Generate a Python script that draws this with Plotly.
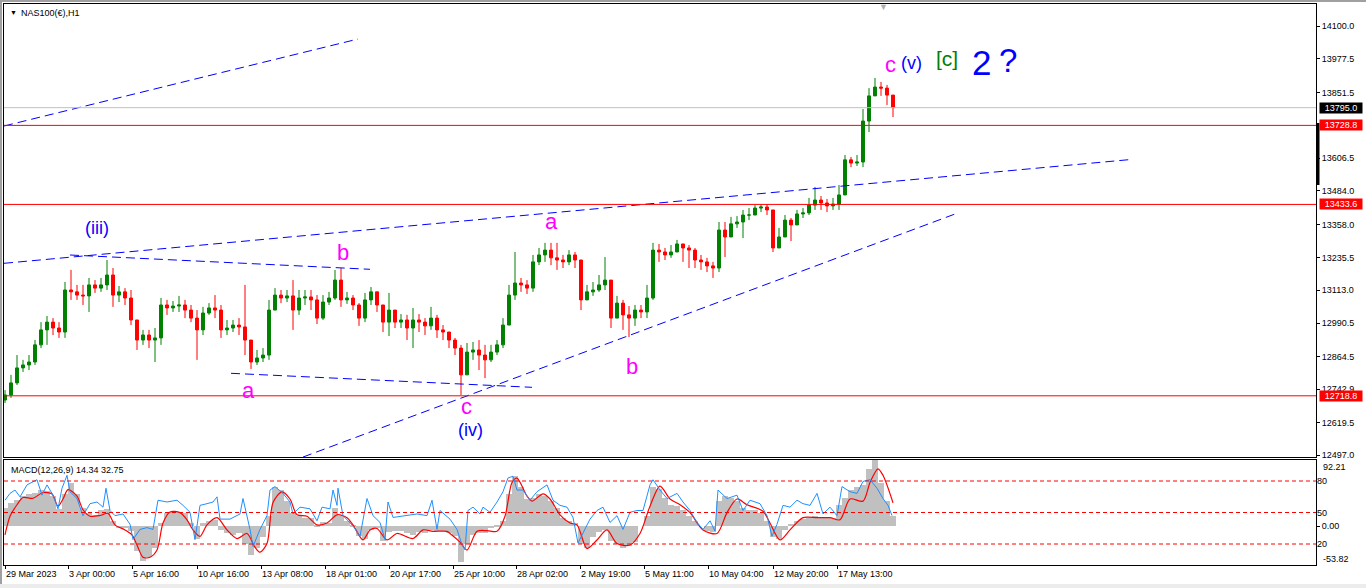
import plotly.graph_objects as go

# ---------------- data (6-bar steps of the H1 chart) ----------------
bar_index = list(range(0, 889, 6))
first_open = 12703
close = [12722, 12767, 12823, 12834, 12845, 12909, 12965, 12994, 12972, 12957,
         13114, 13107, 13095, 13092, 13133, 13121, 13133, 13170, 13095, 13107,
         13084, 13002, 12927, 12946, 12927, 12935, 13058, 13047, 13054, 13058,
         13039, 13009, 12965, 13028, 13047, 13039, 12965, 12972, 12983, 12976,
         12927, 12845, 12860, 12871, 13039, 13095, 13084, 13092, 13039, 13084,
         13088, 13077, 13009, 13069, 13084, 13151, 13077, 13084, 13058, 13009,
         13077, 13107, 13058, 12994, 13039, 12994, 13002, 12972, 13002, 12994,
         12980, 13009, 12965, 12957, 12927, 12897, 12797, 12882, 12890, 12871,
         12853, 12882, 12909, 12983, 13095, 13140, 13133, 13121, 13219, 13245,
         13263, 13234, 13226, 13219, 13245, 13226, 13077, 13107, 13114, 13133,
         13151, 13009, 13065, 13021, 13009, 13039, 13032, 13084, 13263, 13256,
         13245, 13256, 13286, 13271, 13263, 13226, 13219, 13204, 13196, 13338,
         13312, 13361, 13368, 13394, 13394, 13420, 13424, 13413, 13271, 13312,
         13375, 13357, 13398, 13402, 13431, 13450, 13439, 13428, 13435, 13469,
         13600, 13588, 13592, 13745, 13839, 13872, 13868, 13842, 13795]
high = [12740, 12797, 12871, 12853, 12871, 12927, 12994, 13017, 13009, 12994,
        13144, 13189, 13133, 13133, 13159, 13151, 13159, 13226, 13196, 13129,
        13121, 13114, 12994, 12965, 12965, 12972, 13084, 13077, 13073, 13092,
        13077, 13058, 13039, 13051, 13065, 13095, 13058, 13002, 13002, 13009,
        13133, 12927, 12890, 12897, 13077, 13121, 13114, 13114, 13151, 13114,
        13114, 13114, 13095, 13095, 13107, 13189, 13196, 13107, 13095, 13065,
        13103, 13125, 13095, 13058, 13103, 13032, 13024, 13021, 13047, 13024,
        13009, 13051, 13021, 12983, 12957, 12935, 12909, 12916, 12920, 12927,
        12909, 12909, 12927, 13009, 13133, 13256, 13159, 13151, 13245, 13271,
        13290, 13290, 13290, 13245, 13263, 13256, 13219, 13133, 13144, 13170,
        13237, 13133, 13092, 13077, 13054, 13058, 13058, 13133, 13290, 13286,
        13271, 13282, 13301, 13286, 13282, 13271, 13245, 13234, 13219, 13368,
        13368, 13387, 13390, 13413, 13420, 13431, 13435, 13435, 13413, 13346,
        13394, 13383, 13413, 13420, 13458, 13499, 13465, 13454, 13458, 13506,
        13618, 13611, 13618, 13790, 13868, 13906, 13891, 13880, 13835]
low = [12692, 12711, 12759, 12808, 12815, 12834, 12897, 12909, 12946, 12935,
       12935, 13077, 13077, 13058, 13032, 13103, 13107, 13114, 13051, 13069,
       13058, 12983, 12890, 12909, 12897, 12845, 12909, 13021, 13032, 13032,
       13009, 12994, 12853, 12946, 13021, 13009, 12935, 12946, 12957, 12946,
       12871, 12819, 12834, 12845, 12853, 13058, 13065, 13069, 12965, 13021,
       13058, 13039, 12987, 13002, 13058, 13077, 13051, 13062, 13039, 12980,
       12994, 13058, 13032, 12957, 12942, 12972, 12972, 12927, 12897, 12957,
       12946, 12965, 12935, 12927, 12897, 12871, 12722, 12797, 12853, 12815,
       12785, 12845, 12871, 12897, 12983, 13077, 13107, 13099, 13107, 13207,
       13219, 13207, 13189, 13196, 13207, 13196, 13039, 13077, 13092, 13107,
       13114, 12972, 13032, 12965, 12938, 12980, 13009, 13009, 13077, 13219,
       13226, 13234, 13263, 13219, 13196, 13196, 13189, 13181, 13159, 13181,
       13237, 13331, 13346, 13308, 13375, 13394, 13405, 13394, 13256, 13290,
       13331, 13297, 13368, 13383, 13394, 13413, 13413, 13405, 13413, 13413,
       13469, 13573, 13577, 13573, 13704, 13842, 13839, 13805, 13760]
open_ = [first_open] + close[:-1]
high = [max(h, o, c) for h, o, c in zip(high, open_, close)]
low = [min(l, o, c) for l, o, c in zip(low, open_, close)]

macd_hist = [25, 33, 36, 42, 45, 47, 50, 49, 42, 24,
             45, 60, 45, 25, 18, 16, 22, 24, 8, -2,
             -3, -6, -35, -48, -42, -30, 5, 18, 20, 20,
             18, 5, -18, 5, 8, 9, -5, -9, -12, -10,
             -25, -40, -30, -15, 15, 55, 50, 35, 18, 14,
             12, 12, 2, 6, 5, 25, 15, 8, 2, -14,
             -18, -5, -3, -20, -8, -7, -6, -10, -12, -8,
             -9, -5, -6, -7, -10, -14, -50, -25, -12, -10,
             -10, -3, 2, 8, 45, 70, 55, 38, 40, 45,
             42, 35, 25, 12, 8, 4, -25, -30, -15, -8,
             -5, -20, -25, -30, -28, -22, 0, 15, 55, 52,
             40, 30, 28, 22, 15, 8, 0, -6, -8, 35,
             42, 40, 35, 25, 22, 22, 18, 8, -15, -18,
             -5, 3, 8, 10, 12, 14, 12, 11, 12, 30,
             40, 50, 55, 58, 80, 92, 60, 35, 14.34]

signal_x = [0, 5, 12, 18, 28, 38, 47, 53, 58, 63, 72, 78, 85, 95, 103, 110, 120, 127, 132, 138,
            145, 152, 158, 165, 175, 182, 188, 195, 202, 212, 222, 232, 242, 250, 255, 262, 268, 277,
            285, 292, 302, 312, 322, 332, 342, 348, 358, 365, 372, 382, 392, 408, 418, 428, 442, 445,
            455, 462, 472, 482, 492, 500, 507, 512, 522, 527, 538, 545, 555, 565, 572, 582, 592, 602,
            612, 625, 635, 645, 655, 665, 675, 685, 698, 712, 722, 732, 742, 758, 765, 775, 785, 798,
            812, 825, 835, 845, 858, 865, 873, 878, 888]
signal_v = [-12, 14, 30, 40, 39, 47, 45, 28, 38, 51, 42, 23, 14, 15, 18, 2, -5, -12, -26, -43,
            -43, -33, 4.5, 20, 19, 9, -5, -14, 2, 12, -5, -17, -10, -29, -36, -24, 33, 48,
            38, 16, 14, 2, 4.5, 16, 12, 2, -19, -5, -3, -19, -10, -17, -5, -7, -7, -10,
            -22, -33, -7, -6, -7, 14, 61, 67, 42, 35, 45, 38, 16, 4.5, 2, -31, -19, -5,
            -24, -26, -10, 28, 56, 38, 30, 19, -5, -10, 19, 38, 30, 21, 4.5, -19, -5, 12,
            12, 12, 9, 38, 35, 61, 80, 71, 32.75]

osc_x = [0, 5, 10, 15, 22, 28, 32, 37, 42, 48, 53, 57, 62, 65, 72, 78, 85, 92, 98, 101, 105, 110,
         118, 125, 128, 135, 142, 148, 153, 162, 172, 178, 185, 190, 195, 202, 208, 212, 215, 225,
         235, 238, 245, 248, 255, 262, 265, 270, 278, 285, 288, 295, 305, 312, 317, 325, 328, 332,
         333, 338, 348, 355, 362, 368, 375, 380, 383, 388, 402, 412, 422, 427, 432, 435, 445, 452,
         457, 460, 463, 468, 475, 478, 485, 492, 498, 503, 508, 512, 518, 525, 532, 542, 548, 555,
         562, 568, 573, 578, 585, 592, 598, 605, 612, 618, 625, 632, 638, 645, 648, 655, 662, 672,
         678, 685, 692, 698, 705, 710, 713, 722, 732, 738, 745, 755, 762, 767, 772, 778, 785, 792,
         798, 805, 812, 818, 825, 832, 837, 845, 852, 858, 865, 872, 878, 883, 887]
osc_v = [61.7, 68.2, 71.4, 64.9, 76.3, 79.6, 81.2, 66.5, 76.3, 66.5, 53.5, 73.1, 85.4, 69.8, 63.3,
         47.0, 58.4, 60.0, 55.1, 73.1, 51.9, 47.0, 48.6, 38.8, 24.2, 33.9, 35.6, 33.9, 61.7, 60.0,
         61.7, 56.8, 50.2, 24.2, 56.8, 58.4, 60.0, 64.9, 43.7, 43.7, 48.6, 63.3, 33.9, 17.6, 33.9,
         47.0, 71.4, 74.7, 68.2, 60.0, 48.6, 55.1, 53.5, 42.1, 55.1, 53.5, 71.4, 56.8, 73.1, 47.0,
         37.2, 27.4, 63.3, 47.0, 40.5, 24.2, 60.0, 45.3, 47.0, 48.6, 47.0, 61.7, 33.9, 51.9, 43.7,
         33.9, 19.3, 14.4, 51.9, 55.1, 48.6, 55.1, 50.2, 60.0, 69.8, 82.9, 84.5, 71.4, 71.4, 61.7,
         69.8, 76.3, 61.7, 56.8, 55.1, 45.3, 20.9, 30.7, 43.7, 51.9, 55.1, 40.5, 47.0, 33.9, 50.2,
         51.9, 51.9, 76.3, 81.2, 71.4, 63.3, 68.2, 60.0, 51.9, 40.5, 33.9, 42.1, 32.3, 71.4, 63.3,
         66.5, 51.9, 61.7, 58.4, 47.0, 27.4, 38.8, 56.8, 55.1, 61.7, 58.4, 56.8, 68.2, 48.6, 55.1,
         47.0, 74.7, 69.8, 68.2, 79.6, 81.2, 73.1, 63.3, 56.8, 47.0]

# trend lines (bar index, price)
trend_lines = [
    ([-1, 353], [13726.5, 14051.4]),
    ([-1, 1128], [13213.7, 13602.1]),
    ([65, 365], [13244.7, 13191.3]),
    ([226, 527], [12802.8, 12750.5]),
    ([298, 950], [12490.0, 13397.8]),
]
red_levels = [13728.8, 13433.6, 12718.8]
current_price = 13795.0

price_ticks = [14100.0, 13977.5, 13851.5, 13606.5, 13484.0, 13358.0, 13235.5, 13113.0,
               12990.5, 12864.5, 12742.9, 12619.5, 12497.0]
date_ticks = [0, 63, 127, 192, 256, 320, 384, 448, 511, 575, 639, 703, 768, 832]
date_labels = ["29 Mar 2023", "3 Apr 00:00", "5 Apr 16:00", "10 Apr 16:00", "13 Apr 08:00",
               "18 Apr 01:00", "20 Apr 17:00", "25 Apr 10:00", "28 Apr 02:00", "2 May 19:00",
               "5 May 11:00", "10 May 04:00", "12 May 20:00", "17 May 13:00"]

wave_labels = [
    ("(iii)", 91.7, 13345.5, "#0000FF", 18),
    ("b", 338, 13255.9, "#FF00FF", 22),
    ("a", 243, 12740.4, "#FF00FF", 22),
    ("c", 461.7, 12680.0, "#FF00FF", 22),
    ("(iv)", 465, 12590.0, "#0000FF", 18),
    ("a", 546.7, 13368.0, "#FF00FF", 22),
    ("b", 627.3, 12830.0, "#FF00FF", 22),
    ("c", 885, 13958.0, "#FF00FF", 22),
    ("(v)", 906.7, 13962.0, "#0000FF", 18),
    ("[c]", 941.7, 13977.0, "#008000", 21),
    ("2", 976.7, 13965.0, "#0000FF", 35),
    ("?", 1003, 13973.0, "#0000FF", 33),
]

FONT = "Liberation Sans"
W, H = 1366, 588
ML, MR, MT, MB = 4, 50, 4, 23
PW = W - ML - MR
PH = H - MT - MB


def px_x(px):
    return (px - ML) / PW


def px_y(py):
    return (H - MB - py) / PH


fig = go.Figure()

fig.add_trace(go.Candlestick(
    x=bar_index, open=open_, high=high, low=low, close=close,
    xaxis="x", yaxis="y", whiskerwidth=0,
    increasing=dict(line=dict(color="#008000", width=1), fillcolor="#008000"),
    decreasing=dict(line=dict(color="#FF0000", width=1), fillcolor="#FF0000"),
    hoverinfo="skip", showlegend=False))

for xs, ys in trend_lines:
    fig.add_trace(go.Scatter(x=xs, y=ys, mode="lines", xaxis="x", yaxis="y",
                             line=dict(color="#0000FF", width=1, dash="9px,5px"),
                             hoverinfo="skip", showlegend=False))

fig.add_trace(go.Bar(x=bar_index, y=macd_hist, width=6, xaxis="x2", yaxis="y2",
                     marker=dict(color="#C0C0C0", line=dict(width=0)),
                     hoverinfo="skip", showlegend=False))
fig.add_trace(go.Scatter(x=signal_x, y=signal_v, mode="lines", xaxis="x2", yaxis="y2",
                         line=dict(color="#FF0000", width=1.2, shape="spline", smoothing=0.8),
                         hoverinfo="skip", showlegend=False))
fig.add_trace(go.Scatter(x=osc_x, y=osc_v, mode="lines", xaxis="x2", yaxis="y3",
                         line=dict(color="#1E90FF", width=1),
                         hoverinfo="skip", showlegend=False))

shapes = []
shapes.append(dict(type="line", xref="paper", yref="y", x0=0, x1=1,
                   y0=current_price, y1=current_price,
                   line=dict(color="#C0C0C0", width=1)))
for lv in red_levels:
    shapes.append(dict(type="line", xref="paper", yref="y", x0=0, x1=1, y0=lv, y1=lv,
                       line=dict(color="#FF0000", width=1)))
for lv in [80, 50, 20]:
    shapes.append(dict(type="line", xref="paper", yref="y3", x0=0, x1=1, y0=lv, y1=lv,
                       line=dict(color="#FF0000", width=1, dash="4px,3px")))
# black marker bar on the price scale
shapes.append(dict(type="line", xref="paper", yref="paper", x0=px_x(1318), x1=px_x(1318),
                   y0=px_y(123), y1=px_y(185), line=dict(color="black", width=3)))
# window frame
shapes.append(dict(type="rect", xref="paper", yref="paper", x0=px_x(0), x1=px_x(2),
                   y0=px_y(588), y1=px_y(0), line=dict(width=0), fillcolor="#A0A0A0"))
shapes.append(dict(type="rect", xref="paper", yref="paper", x0=px_x(0), x1=px_x(1366),
                   y0=px_y(2), y1=px_y(0), line=dict(width=0), fillcolor="#A0A0A0"))
shapes.append(dict(type="rect", xref="paper", yref="paper", x0=px_x(0), x1=px_x(1366),
                   y0=px_y(588), y1=px_y(584), line=dict(width=0), fillcolor="#ECECEC"))

annotations = []
for txt, x, y, col, sz in wave_labels:
    annotations.append(dict(text=txt, x=x, y=y, xref="x", yref="y", showarrow=False,
                            xanchor="center", yanchor="middle",
                            font=dict(family=FONT, size=sz, color=col)))

# price labels on the right scale
for txt, val, bg in [("13795.0", current_price, "black"), ("13728.8", 13728.8, "#FF0000"),
                     ("13433.6", 13433.6, "#FF0000"), ("12718.8", 12718.8, "#FF0000")]:
    annotations.append(dict(text=txt, x=px_x(1319), y=val, xref="paper", yref="y",
                            showarrow=False, xanchor="left", yanchor="middle",
                            bgcolor=bg, borderpad=0, width=42, height=10,
                            font=dict(family=FONT, size=9, color="white")))

annotations.append(dict(text="▼", x=px_x(8), y=px_y(13), xref="paper", yref="paper",
                        showarrow=False, xanchor="left", yanchor="middle",
                        font=dict(family=FONT, size=7, color="black")))
annotations.append(dict(text="NAS100(€),H1", x=px_x(19), y=px_y(13), xref="paper", yref="paper",
                        showarrow=False, xanchor="left", yanchor="middle",
                        font=dict(family=FONT, size=9, color="black")))
annotations.append(dict(text="▼", x=px_x(883), y=px_y(7), xref="paper", yref="paper",
                        showarrow=False, xanchor="center", yanchor="middle",
                        font=dict(family=FONT, size=9, color="#B0B0B0")))
annotations.append(dict(text="MACD(12,26,9) 14.34 32.75", x=px_x(9), y=px_y(470),
                        xref="paper", yref="paper", showarrow=False, xanchor="left",
                        yanchor="middle", font=dict(family=FONT, size=9, color="black")))
annotations.append(dict(text="92.21", x=px_x(1321), y=px_y(467), xref="paper", yref="paper",
                        showarrow=False, xanchor="left", yanchor="middle",
                        font=dict(family=FONT, size=9, color="black")))
annotations.append(dict(text="-53.82", x=px_x(1321), y=px_y(559), xref="paper", yref="paper",
                        showarrow=False, xanchor="left", yanchor="middle",
                        font=dict(family=FONT, size=9, color="black")))

main_bottom = px_y(457)
macd_top = px_y(460)

axis_common = dict(showgrid=False, zeroline=False, showline=True, mirror=True,
                   linecolor="black", linewidth=1)

fig.update_layout(
    width=W, height=H,
    margin=dict(l=ML, r=MR, t=MT, b=MB, autoexpand=False),
    paper_bgcolor="white", plot_bgcolor="white",
    showlegend=False,
    font=dict(family=FONT, size=9, color="black"),
    shapes=shapes, annotations=annotations,
    xaxis=dict(domain=[0, 1], anchor="y", range=[-1, 1311], showticklabels=False,
               ticks="", rangeslider=dict(visible=False), **axis_common),
    yaxis=dict(domain=[main_bottom, 1], anchor="x", side="right",
               range=[12490.2, 14182.2], tickmode="array", tickvals=price_ticks,
               ticktext=["%.1f" % v for v in price_ticks], ticks="outside", ticklen=3,
               tickcolor="black", tickfont=dict(family=FONT, size=9, color="black"),
               **axis_common),
    xaxis2=dict(domain=[0, 1], anchor="y2", matches="x", range=[-1, 1311],
                tickmode="array", tickvals=date_ticks, ticktext=date_labels,
                ticks="outside", ticklen=3, tickcolor="black",
                ticklabelposition="outside right",
                tickfont=dict(family=FONT, size=9, color="black"), **axis_common),
    yaxis2=dict(domain=[0, macd_top], anchor="x2", side="right", range=[-53.82, 92.21],
                tickmode="array", tickvals=[0], ticktext=["0.00"], ticks="outside",
                ticklen=3, tickcolor="black",
                tickfont=dict(family=FONT, size=9, color="black"), **axis_common),
    yaxis3=dict(overlaying="y2", anchor="x2", side="right", range=[0, 100],
                tickmode="array", tickvals=[80, 50, 20], ticktext=["80", "50", "20"],
                ticks="", showgrid=False, zeroline=False, showline=False,
                tickfont=dict(family=FONT, size=9, color="black")),
    bargap=0,
)

fig.write_html("out.html", config={"displayModeBar": False},
               post_script="document.body.style.margin='0px';")
